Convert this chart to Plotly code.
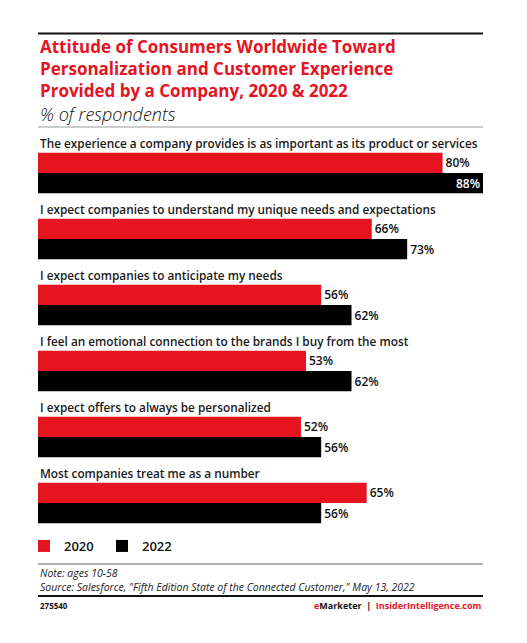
import plotly.graph_objects as go

# data
statements = [
    'The experience a company provides is as important as its product or services',
    'I expect companies to understand my unique needs and expectations',
    'I expect companies to anticipate my needs',
    'I feel an emotional connection to the brands I buy from the most',
    'I expect offers to always be personalized',
    'Most companies treat me as a number',
]
share_2020 = [80, 66, 56, 53, 52, 65]
share_2022 = [88, 73, 62, 62, 56, 56]
years = ['2020', '2022']

RED = '#e5141f'
FONT = 'Open Sans'
BODY = 8  # default page margin of the html body
W, H = 527 - BODY, 643 - BODY
# margins given in page pixels of the 527x643 window
M_L, M_R, M_T, M_B = 38 - BODY, 44, 140 - BODY, 100
PLOT_H = H - M_T - M_B


def py(pix):
    # page pixel row -> paper coordinate
    return (H - M_B - (pix - BODY)) / PLOT_H


def px(pix):
    return ((pix - BODY) - M_L) / (W - M_L - M_R)


fig = go.Figure()

pos_2022 = ['inside' if v == max(share_2022) else 'outside' for v in share_2022]
val_font = dict(color='#111', size=12, family=FONT, weight=600)

fig.add_trace(go.Bar(
    y=statements, x=share_2020, name=years[0], orientation='h',
    marker=dict(color=RED, line_width=0),
    texttemplate='%{x}%', textposition='outside',
    outsidetextfont=val_font, constraintext='none',
    cliponaxis=False,
))
fig.add_trace(go.Bar(
    y=statements, x=share_2022, name=years[1], orientation='h',
    marker=dict(color='#000000', line_width=0),
    texttemplate='%{x}%', textposition=pos_2022, insidetextanchor='end',
    insidetextfont=dict(val_font, color='white'),
    outsidetextfont=val_font, constraintext='none',
    cliponaxis=False,
))

# category labels above each pair of bars
for s in statements:
    fig.add_annotation(x=0, xref='paper', y=s, yref='y', yshift=30,
                       text=s, showarrow=False, xanchor='left', yanchor='middle',
                       font=dict(size=11.8, color='#1a1a1a', family=FONT, weight=600))

title_lines = [
    'Attitude of Consumers Worldwide Toward',
    'Personalization and Customer Experience',
    'Provided by a Company, 2020 & 2022',
]
fig.add_annotation(x=0, xref='paper', y=py(68.5), yref='paper',
                   text='<br>'.join(title_lines), showarrow=False, align='left',
                   xanchor='left', yanchor='middle',
                   font=dict(size=17, color=RED, family=FONT, weight=700))
fig.add_annotation(x=0, xref='paper', y=py(114.5), yref='paper',
                   text='<i>% of respondents</i>', showarrow=False,
                   xanchor='left', yanchor='middle',
                   font=dict(size=18, color='#111', family=FONT, weight=300))

fig.add_annotation(x=0, xref='paper', y=py(573), yref='paper',
                   text='<i>Note: ages 10-58</i>', showarrow=False,
                   xanchor='left', yanchor='middle',
                   font=dict(size=10.5, color='#222', family=FONT))
fig.add_annotation(x=0, xref='paper', y=py(586.5), yref='paper',
                   text='<i>Source: Salesforce, "Fifth Edition State of the Connected Customer," May 13, 2022</i>',
                   showarrow=False, xanchor='left', yanchor='middle',
                   font=dict(size=10.5, color='#222', family=FONT))
fig.add_annotation(x=0, xref='paper', y=py(605), yref='paper',
                   text='<b>275540</b>', showarrow=False,
                   xanchor='left', yanchor='middle',
                   font=dict(size=8, color='#111', family=FONT))
fig.add_annotation(x=1, xref='paper', y=py(605), yref='paper',
                   text=(f'<b><span style="color:{RED}">e</span>Marketer'
                         f'  |  <span style="color:{RED}">InsiderIntelligence.com</span></b>'),
                   showarrow=False, xanchor='right', yanchor='middle',
                   font=dict(size=9, color='#111', family=FONT))

# rules
fig.add_shape(type='line', xref='paper', yref='paper', x0=0, x1=1,
              y0=py(33.5), y1=py(33.5), line=dict(color='#111', width=2))
fig.add_shape(type='line', xref='paper', yref='paper', x0=0, x1=1,
              y0=py(127), y1=py(127), line=dict(color='#999', width=1))
fig.add_shape(type='line', xref='paper', yref='paper', x0=0, x1=1,
              y0=py(564), y1=py(564), line=dict(color='#666', width=1))
fig.add_shape(type='line', xref='paper', yref='paper', x0=0, x1=1,
              y0=py(596), y1=py(596), line=dict(color='#111', width=2))

fig.update_layout(
    width=W, height=H,
    margin=dict(l=M_L, r=M_R, t=M_T, b=M_B),
    paper_bgcolor='white', plot_bgcolor='white',
    barmode='group', bargap=0.39, bargroupgap=0,
    showlegend=True,
    legend=dict(orientation='h', x=px(24), xanchor='left', y=py(546), yanchor='middle',
                font=dict(size=13, color='#111', family=FONT, weight=600),
                itemwidth=30, entrywidth=33, itemclick=False, traceorder='normal'),
    font=dict(family=FONT),
)
fig.update_xaxes(range=[0, max(share_2022)], visible=False, fixedrange=True)
fig.update_yaxes(autorange='reversed', visible=False, fixedrange=True)

fig.write_html('out.html')
